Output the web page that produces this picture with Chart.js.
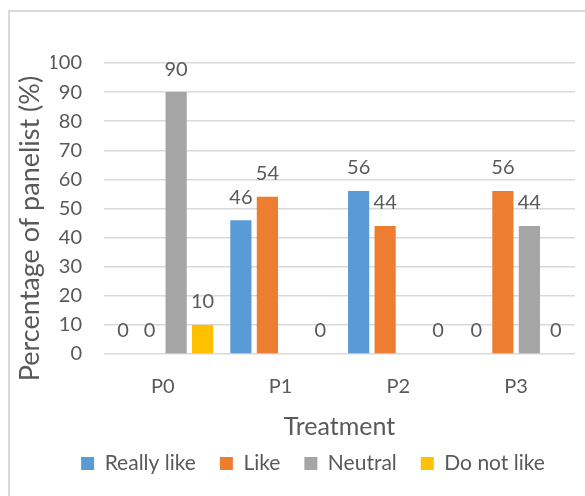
<!DOCTYPE html>
<html>
<head>
<meta charset="utf-8">
<script src="https://cdn.jsdelivr.net/npm/chart.js@4/dist/chart.umd.min.js"></script>
<style>
  html, body { margin: 0; padding: 0; background: #fff; overflow: hidden; }
  #wrap { position: relative; width: 585px; height: 496px; }
  #frame { position: absolute; left: 8px; top: 10px; width: 600px; height: 520px;
           border-left: 2px solid #d9d9d9; border-top: 2px solid #d9d9d9; box-sizing: border-box; }
  canvas { position: absolute; left: 0; top: 0; }
</style>
</head>
<body>
<div id="wrap">
  <div id="frame"></div>
  <canvas id="chart" width="585" height="496"></canvas>
</div>
<script>
// Treatments on the x axis
const categories = ['P0', 'P1', 'P2', 'P3'];

// Share of panelists (%) per preference level; null = no bar
const reallyLike = [0, 46, 56, 0];
const like       = [0, 54, 44, 56];
const neutral    = [90, null, null, 44];
const doNotLike  = [10, 0, 0, 0];

const seriesNames = ['Really like', 'Like', 'Neutral', 'Do not like'];
const seriesColors = ['#5B9BD5', '#ED7D31', '#A5A5A5', '#FFC000'];

const yTicks = [0, 10, 20, 30, 40, 50, 60, 70, 80, 90, 100];
const xTitle = 'Treatment';
const yTitle = 'Percentage of panelist (%)';

const FONT = 'Lato, "Open Sans", sans-serif';
const TEXT = '#595959';

// Value labels above each bar, plus the two axis titles
const labelPlugin = {
  id: 'valueLabels',
  afterDatasetsDraw(chart) {
    const ctx = chart.ctx;
    ctx.save();
    ctx.fillStyle = TEXT;
    ctx.font = '20px ' + FONT;
    ctx.textAlign = 'center';
    ctx.textBaseline = 'middle';
    chart.data.datasets.forEach((ds, i) => {
      const meta = chart.getDatasetMeta(i);
      meta.data.forEach((bar, j) => {
        const v = ds.data[j];
        if (v === null || v === undefined) return;
        ctx.fillText(String(v), bar.x, bar.y - 23);
      });
    });

    const area = chart.chartArea;
    ctx.font = '25px ' + FONT;
    ctx.fillText(xTitle, (area.left + area.right) / 2, area.bottom + 73);

    ctx.font = '27px ' + FONT;
    ctx.translate(30, (area.top + area.bottom) / 2 + 20);
    ctx.rotate(-Math.PI / 2);
    ctx.fillText(yTitle, 0, 0);
    ctx.restore();
  }
};

const datasets = [reallyLike, like, neutral, doNotLike].map((arr, i) => ({
  label: seriesNames[i],
  data: arr,
  backgroundColor: seriesColors[i],
  borderWidth: 0,
  categoryPercentage: 0.9,
  barPercentage: 0.8
}));

new Chart(document.getElementById('chart'), {
  type: 'bar',
  data: { labels: categories, datasets },
  plugins: [labelPlugin],
  options: {
    responsive: false,
    animation: false,
    layout: { padding: { left: 51, right: 10, top: 63, bottom: 12 } },
    plugins: {
      tooltip: { enabled: false },
      legend: {
        position: 'bottom',
        labels: {
          boxWidth: 13,
          boxHeight: 13,
          padding: 24,
          color: TEXT,
          font: { family: FONT, size: 21 }
        }
      }
    },
    scales: {
      x: {
        grid: { display: false, drawTicks: false },
        border: { display: false },
        ticks: { color: TEXT, font: { family: FONT, size: 20 }, padding: 21 },
        afterFit(scale) { scale.height = 75; }
      },
      y: {
        min: 0,
        max: 100,
        afterBuildTicks(scale) { scale.ticks = yTicks.map(v => ({ value: v })); },
        grid: { color: '#d9d9d9', lineWidth: 1.5, drawTicks: false },
        border: { display: false },
        ticks: { color: TEXT, font: { family: FONT, size: 20 }, padding: 22 },
        afterFit(scale) { scale.width = 53; }
      }
    }
  }
});
</script>
</body>
</html>
